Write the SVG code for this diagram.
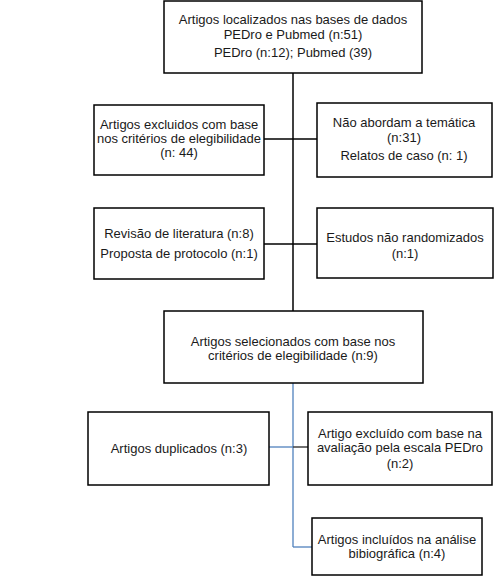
<svg xmlns="http://www.w3.org/2000/svg" width="501" height="584" viewBox="0 0 501 584">
<style>
.box{fill:#fff;stroke:#000;stroke-width:1.5}
text{font-family:"Liberation Sans",Arial,sans-serif;font-size:13px;fill:#1a1a1a;text-anchor:middle}
.k{stroke:#000;stroke-width:1.5;fill:none}
.g{stroke:#404040;stroke-width:1.5;fill:none}
.b{stroke:#4f81bd;stroke-width:1.3;fill:none}
</style>
<rect width="501" height="584" fill="#fff"/>
<g id="connectors">
<line class="k" x1="293" y1="73" x2="293" y2="311"/>
<line class="k" x1="264" y1="139" x2="317" y2="139"/>
<line class="k" x1="264" y1="244" x2="317" y2="244"/>
<line class="b" x1="293" y1="383" x2="293" y2="547"/>
<line class="b" x1="269" y1="447" x2="293" y2="447"/>
<line class="g" x1="293" y1="447" x2="308" y2="447"/>
<line class="b" x1="293" y1="547" x2="312" y2="547"/>
</g>
<g id="n1"><rect class="box" x="164" y="1" width="258" height="72"/>
<text x="293" y="24">Artigos localizados nas bases de dados</text>
<text x="293" y="39">PEDro e Pubmed (n:51)</text>
<text x="293" y="57">PEDro (n:12); Pubmed (39)</text></g>
<g id="n2"><rect class="box" x="94" y="105" width="170" height="70"/>
<text x="179" y="129">Artigos excluidos com base</text>
<text x="179" y="143">nos critérios de elegibilidade</text>
<text x="179" y="157">(n: 44)</text></g>
<g id="n3"><rect class="box" x="317" y="103" width="175" height="74"/>
<text x="404" y="127">Não abordam a temática</text>
<text x="404" y="142">(n:31)</text>
<text x="404" y="160">Relatos de caso (n: 1)</text></g>
<g id="n4"><rect class="box" x="94" y="208" width="170" height="71"/>
<text x="179" y="238">Revisão de literatura (n:8)</text>
<text x="179" y="258">Proposta de protocolo (n:1)</text></g>
<g id="n5"><rect class="box" x="317" y="208" width="176" height="70"/>
<text x="405" y="242">Estudos não randomizados</text>
<text x="405" y="258">(n:1)</text></g>
<g id="n6"><rect class="box" x="164" y="311" width="259" height="72"/>
<text x="293" y="346">Artigos selecionados com base nos</text>
<text x="293" y="360">critérios de elegibilidade (n:9)</text></g>
<g id="n7"><rect class="box" x="88" y="412" width="181" height="73"/>
<text x="179" y="453">Artigos duplicados (n:3)</text></g>
<g id="n8"><rect class="box" x="308" y="412" width="184" height="73"/>
<text x="400" y="438">Artigo excluído com base na</text>
<text x="400" y="452">avaliação pela escala PEDro</text>
<text x="400" y="468">(n:2)</text></g>
<g id="n9"><rect class="box" x="312" y="518" width="170" height="57"/>
<text x="397" y="544">Artigos incluídos na análise</text>
<text x="397" y="558">bibiográfica (n:4)</text></g>
</svg>
